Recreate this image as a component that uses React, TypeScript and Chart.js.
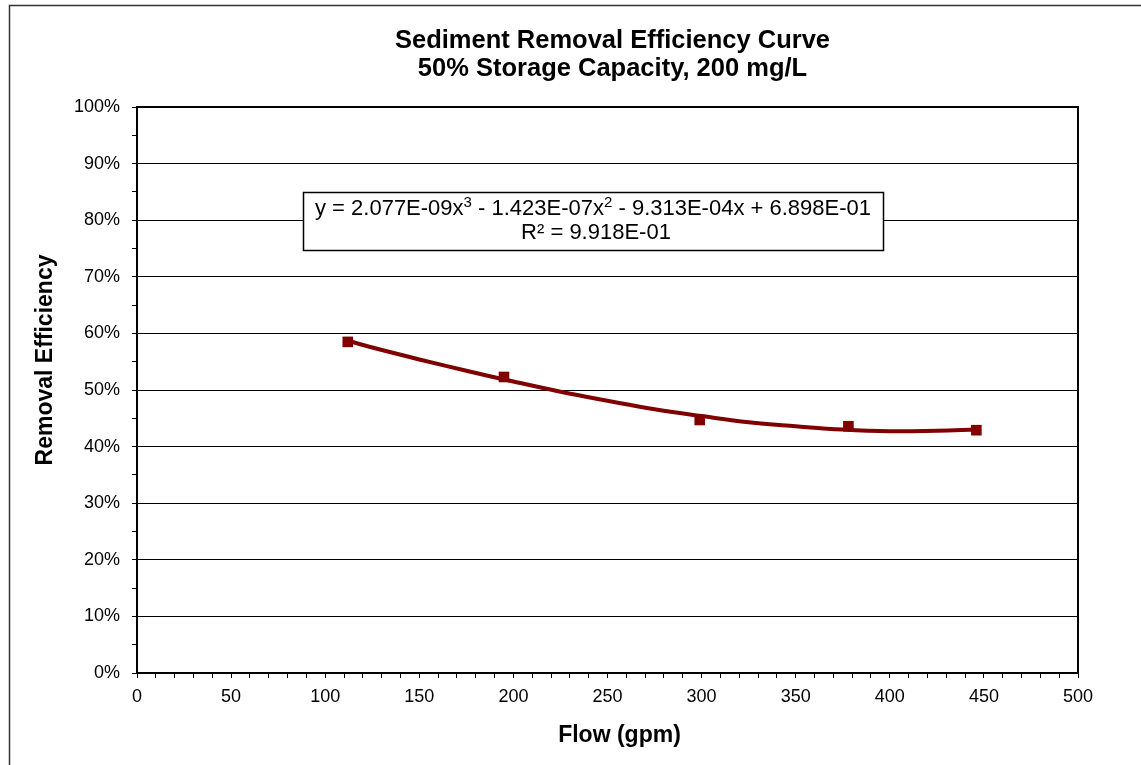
import React, { useEffect, useRef } from "react";
import { Chart, registerables } from "chart.js";

Chart.register(...registerables);

const flowGpm = [112, 195, 299, 378, 446];
const removalEff = [58.5, 52.3, 44.7, 43.6, 42.9];

const trendFlow = [112, 125, 150, 175, 200, 225, 250, 275, 300, 325, 350, 375, 400, 425, 446];
const trendEff = [58.7, 57.5, 55.4, 53.4, 51.5, 49.7, 48.1, 46.6, 45.4, 44.3, 43.6, 43.0, 42.7, 42.8, 43.0];

const titleLines = ["Sediment Removal Efficiency Curve", "50% Storage Capacity, 200 mg/L"];
// equation pieces: [text, isSuperscript]
const equationLine1: [string, boolean][] = [
  ["y = 2.077E-09x", false],
  ["3", true],
  [" - 1.423E-07x", false],
  ["2", true],
  [" - 9.313E-04x + 6.898E-01", false],
];
const equationLine2: [string, boolean][] = [
  ["R\u00B2 = 9.918E-01", false],
];
const xTitle = "Flow (gpm)";
const yTitle = "Removal Efficiency";

const FONT = "'Liberation Sans', Arial, sans-serif";
const DARK_RED = "#800000";

function drawRich(ctx: CanvasRenderingContext2D, parts: [string, boolean][], cx: number, midY: number, size: number) {
  const supSize = Math.round(size * 0.66);
  let total = 0;
  for (const [t, sup] of parts) {
    ctx.font = `${sup ? supSize : size}px ${FONT}`;
    total += ctx.measureText(t).width;
  }
  let x = cx - total / 2;
  ctx.textAlign = "left";
  ctx.textBaseline = "middle";
  for (const [t, sup] of parts) {
    ctx.font = `${sup ? supSize : size}px ${FONT}`;
    ctx.fillText(t, x, sup ? midY - size * 0.26 : midY);
    x += ctx.measureText(t).width;
  }
}

const decorPlugin = {
  id: "decor",
  beforeDraw(chart: any) {
    const { ctx, width, height } = chart;
    ctx.save();
    ctx.fillStyle = "#ffffff";
    ctx.fillRect(0, 0, width, height);
    ctx.strokeStyle = "#333333";
    ctx.lineWidth = 1.5;
    ctx.beginPath();
    ctx.moveTo(9.5, height);
    ctx.lineTo(9.5, 5.5);
    ctx.lineTo(width, 5.5);
    ctx.stroke();
    ctx.restore();
  },
  afterDraw(chart: any) {
    const { ctx, chartArea } = chart;
    const { left, right, top, bottom } = chartArea;
    ctx.save();
    // plot frame
    ctx.strokeStyle = "#000";
    ctx.lineWidth = 2;
    ctx.strokeRect(left, top, right - left, bottom - top);

    const cx = (left + right) / 2 + 5;
    ctx.fillStyle = "#000";
    ctx.textAlign = "center";
    ctx.textBaseline = "middle";
    ctx.font = `bold 25.5px ${FONT}`;
    ctx.fillText(titleLines[0], cx, 41);
    ctx.fillText(titleLines[1], cx, 69);

    ctx.font = `bold 23px ${FONT}`;
    ctx.fillText(xTitle, cx + 7, 736);
    ctx.save();
    ctx.translate(46, 360);
    ctx.rotate(-Math.PI / 2);
    ctx.fillText(yTitle, 0, 0);
    ctx.restore();

    // equation box
    const bx = 303, by = 192, bw = 580, bh = 58;
    ctx.fillStyle = "#fff";
    ctx.fillRect(bx, by, bw, bh);
    ctx.strokeStyle = "#000";
    ctx.lineWidth = 1.5;
    ctx.strokeRect(bx + 0.5, by + 0.5, bw, bh);
    ctx.fillStyle = "#000";
    drawRich(ctx, equationLine1, bx + bw / 2, 209, 22);
    drawRich(ctx, equationLine2, bx + bw / 2 + 3, 233, 22);
    ctx.restore();
  },
};

export default function App() {
  const ref = useRef<HTMLCanvasElement>(null);
  useEffect(() => {
    if (!ref.current) return;
    const chart = new Chart(ref.current, {
      type: "scatter",
      data: {
        datasets: [
          {
            label: "Trend",
            data: trendFlow.map((x, i) => ({ x, y: trendEff[i] })),
            showLine: true,
            borderColor: DARK_RED,
            borderWidth: 4,
            pointRadius: 0,
            tension: 0.4,
            order: 2,
          },
          {
            label: "Data",
            data: flowGpm.map((x, i) => ({ x, y: removalEff[i] })),
            showLine: false,
            pointStyle: "rect",
            pointRadius: 7.5,
            backgroundColor: DARK_RED,
            borderColor: DARK_RED,
            borderWidth: 0,
            order: 1,
          },
        ],
      },
      options: {
        animation: false,
        responsive: false,
        layout: { padding: { top: 107, right: 63, left: 0, bottom: 0 } },
        plugins: { legend: { display: false }, tooltip: { enabled: false }, title: { display: false } },
        scales: {
          x: {
            type: "linear",
            min: 0,
            max: 500,
            afterFit: (s: any) => { s.height = 92; },
            border: { color: "#000", width: 2 },
            grid: {
              color: "transparent",
              drawOnChartArea: false,
              tickColor: "#000",
              tickLength: 5,
              tickWidth: 1,
            },
            ticks: {
              stepSize: 10,
              autoSkip: false,
              maxRotation: 0,
              padding: 8,
              color: "#000",
              font: { family: FONT, size: 18 },
              callback: (v: any) => (Number(v) % 50 === 0 ? String(v) : ""),
            },
          },
          y: {
            min: 0,
            max: 100,
            afterFit: (s: any) => { s.width = 137; },
            border: { color: "#000", width: 2 },
            grid: {
              color: (c: any) => (c.tick && c.tick.value % 10 === 0 ? "#000" : "transparent"),
              tickColor: "#000",
              tickLength: 5,
              lineWidth: 1,
            },
            ticks: {
              stepSize: 5,
              autoSkip: false,
              padding: 12,
              color: "#000",
              font: { family: FONT, size: 18 },
              callback: (v: any) => (Number(v) % 10 === 0 ? `${v}%` : ""),
            },
          },
        },
      },
      plugins: [decorPlugin],
    } as any);
    return () => chart.destroy();
  }, []);
  return (
    <div style={{ position: "absolute", left: 0, top: 0, width: 1141, height: 765 }}>
      <canvas ref={ref} width={1141} height={765} style={{ display: "block" }} />
    </div>
  );
}
